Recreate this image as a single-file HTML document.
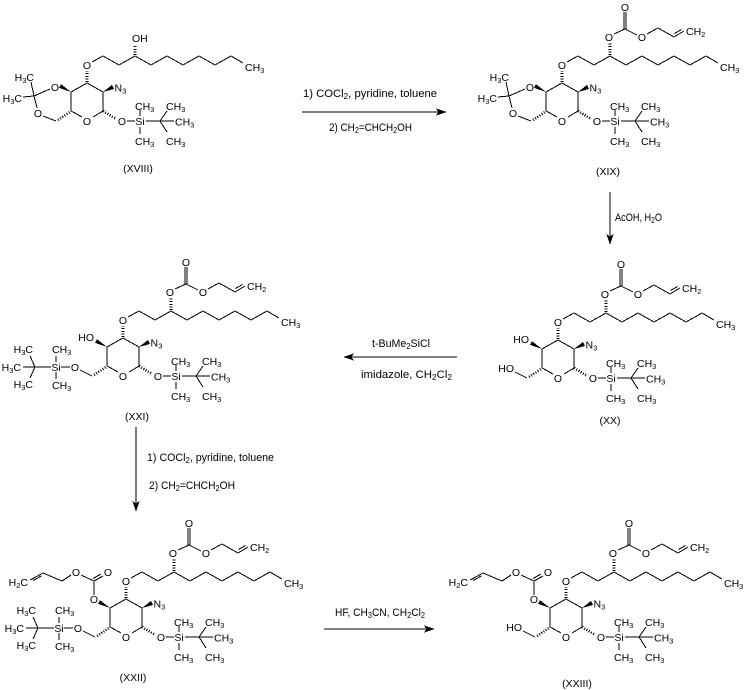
<!DOCTYPE html>
<html><head><meta charset="utf-8"><style>
html,body{margin:0;padding:0;background:#fff;}
svg{display:block}
text{font-family:"Liberation Sans",Arial,sans-serif;font-size:10.5px;fill:#000}
text.r{font-size:11px}
.m{text-anchor:middle}
.e{text-anchor:end}
path,line{stroke:#000;stroke-width:1;fill:none;shape-rendering:crispEdges}
line.h{stroke-dasharray:1,1.6;stroke-width:2.6}
polygon{fill:#000;stroke:none;shape-rendering:crispEdges}
</style></head><body>
<svg width="749" height="690" viewBox="0 0 749 690" xmlns="http://www.w3.org/2000/svg">

<!-- XVIII -->
<g transform="translate(0,0)">
<path d="M87,83 L103,92 L103,111 L93,117 M82,117 L71,111 L71,92 L87,83 M127,121 L135,121 M140,116 L140,110 M140,127 L140,134 M146,121 L160,121 L167,111 M160,121 L174,121 M160,121 L167,132 M92,62 L103,56 L119,65 L135,56 L151,65 L167,56 L183,65 L199,56 L215,65 L231,56 L243,63"/>
<line class="h" x1="87" y1="82" x2="87" y2="71"/>
<line class="h" x1="103" y1="111" x2="116" y2="119"/>
<line class="h" x1="58" y1="120" x2="70" y2="112"/>
<polygon points="103,92 112,85 114,89"/>
<text class="m" x="87" y="69">O</text>
<text class="m" x="87" y="125">O</text>
<text x="114.5" y="91.5">N<tspan dy="2" font-size="7.5">3</tspan></text>
<text class="m" x="122" y="125">O</text>
<text class="m" x="140" y="125">Si</text>
<text x="135" y="110">CH<tspan dy="2" font-size="7.5">3</tspan></text>
<text x="135" y="145">CH<tspan dy="2" font-size="7.5">3</tspan></text>
<text x="166" y="110">CH<tspan dy="2" font-size="7.5">3</tspan></text>
<text x="175" y="125.5">CH<tspan dy="2" font-size="7.5">3</tspan></text>
<text x="166" y="145">CH<tspan dy="2" font-size="7.5">3</tspan></text>
<text x="245" y="71">CH<tspan dy="2" font-size="7.5">3</tspan></text>
<line class="h" x1="135" y1="55" x2="135" y2="45"/>
<text x="132" y="42">OH</text>
<polygon points="71,92 61,84.2 59,87.8"/>
<path d="M50,89 L34,96 L37,108 M43,116 L56,121 M34,96 L31,82 M34,96 L23,97"/>
<text class="m" x="55" y="91">O</text>
<text class="m" x="38" y="117">O</text>
<text class="e" x="34" y="81">H<tspan dy="2" font-size="7.5">3</tspan><tspan dy="-2">C</tspan></text>
<text class="e" x="22" y="102">H<tspan dy="2" font-size="7.5">3</tspan><tspan dy="-2">C</tspan></text>
</g>

<!-- XIX -->
<g transform="translate(475,0)">
<path d="M87,83 L103,92 L103,111 L93,117 M82,117 L71,111 L71,92 L87,83 M127,121 L135,121 M140,116 L140,110 M140,127 L140,134 M146,121 L160,121 L167,111 M160,121 L174,121 M160,121 L167,132 M92,62 L103,56 L119,65 L135,56 L151,65 L167,56 L183,65 L199,56 L215,65 L231,56 L243,63"/>
<line class="h" x1="87" y1="82" x2="87" y2="71"/>
<line class="h" x1="103" y1="111" x2="116" y2="119"/>
<line class="h" x1="58" y1="120" x2="70" y2="112"/>
<polygon points="103,92 112,85 114,89"/>
<text class="m" x="87" y="69">O</text>
<text class="m" x="87" y="125">O</text>
<text x="114.5" y="91.5">N<tspan dy="2" font-size="7.5">3</tspan></text>
<text class="m" x="122" y="125">O</text>
<text class="m" x="140" y="125">Si</text>
<text x="135" y="110">CH<tspan dy="2" font-size="7.5">3</tspan></text>
<text x="135" y="145">CH<tspan dy="2" font-size="7.5">3</tspan></text>
<text x="166" y="110">CH<tspan dy="2" font-size="7.5">3</tspan></text>
<text x="175" y="125.5">CH<tspan dy="2" font-size="7.5">3</tspan></text>
<text x="166" y="145">CH<tspan dy="2" font-size="7.5">3</tspan></text>
<text x="245" y="71">CH<tspan dy="2" font-size="7.5">3</tspan></text>
<line class="h" x1="135" y1="55" x2="135" y2="43"/>
<path d="M139,34 L150,29 L162,35 M172,34 L183,28 L199,37 L209,31 M199.5,33.5 L206.5,29.5 M148.8,29 L148.8,12 M151.2,29 L151.2,12"/>
<text class="m" x="134" y="41">O</text>
<text class="m" x="150" y="11">O</text>
<text class="m" x="167" y="41">O</text>
<text x="211" y="35">CH<tspan dy="2" font-size="7.5">2</tspan></text>
<polygon points="71,92 61,84.2 59,87.8"/>
<path d="M50,89 L34,96 L37,108 M43,116 L56,121 M34,96 L31,82 M34,96 L23,97"/>
<text class="m" x="55" y="91">O</text>
<text class="m" x="38" y="117">O</text>
<text class="e" x="34" y="81">H<tspan dy="2" font-size="7.5">3</tspan><tspan dy="-2">C</tspan></text>
<text class="e" x="22" y="102">H<tspan dy="2" font-size="7.5">3</tspan><tspan dy="-2">C</tspan></text>
</g>

<!-- XX -->
<g transform="translate(471,257)">
<path d="M87,83 L103,92 L103,111 L93,117 M82,117 L71,111 L71,92 L87,83 M127,121 L135,121 M140,116 L140,110 M140,127 L140,134 M146,121 L160,121 L167,111 M160,121 L174,121 M160,121 L167,132 M92,62 L103,56 L119,65 L135,56 L151,65 L167,56 L183,65 L199,56 L215,65 L231,56 L243,63"/>
<line class="h" x1="87" y1="82" x2="87" y2="71"/>
<line class="h" x1="103" y1="111" x2="116" y2="119"/>
<line class="h" x1="58" y1="120" x2="70" y2="112"/>
<polygon points="103,92 112,85 114,89"/>
<text class="m" x="87" y="69">O</text>
<text class="m" x="87" y="125">O</text>
<text x="114.5" y="91.5">N<tspan dy="2" font-size="7.5">3</tspan></text>
<text class="m" x="122" y="125">O</text>
<text class="m" x="140" y="125">Si</text>
<text x="135" y="110">CH<tspan dy="2" font-size="7.5">3</tspan></text>
<text x="135" y="145">CH<tspan dy="2" font-size="7.5">3</tspan></text>
<text x="166" y="110">CH<tspan dy="2" font-size="7.5">3</tspan></text>
<text x="175" y="125.5">CH<tspan dy="2" font-size="7.5">3</tspan></text>
<text x="166" y="145">CH<tspan dy="2" font-size="7.5">3</tspan></text>
<text x="245" y="71">CH<tspan dy="2" font-size="7.5">3</tspan></text>
<line class="h" x1="135" y1="55" x2="135" y2="43"/>
<path d="M139,34 L150,29 L162,35 M172,34 L183,28 L199,37 L209,31 M199.5,33.5 L206.5,29.5 M148.8,29 L148.8,12 M151.2,29 L151.2,12"/>
<text class="m" x="134" y="41">O</text>
<text class="m" x="150" y="11">O</text>
<text class="m" x="167" y="41">O</text>
<text x="211" y="35">CH<tspan dy="2" font-size="7.5">2</tspan></text>
<polygon points="71,92 61,84.2 59,87.8"/>
<text class="e" x="58" y="86">HO</text>
<path d="M56,121 L44,115"/>
<text class="e" x="43" y="115">HO</text>
</g>

<!-- XXI -->
<g transform="translate(36,255)">
<path d="M87,83 L103,92 L103,111 L93,117 M82,117 L71,111 L71,92 L87,83 M127,121 L135,121 M140,116 L140,110 M140,127 L140,134 M146,121 L160,121 L167,111 M160,121 L174,121 M160,121 L167,132 M92,62 L103,56 L119,65 L135,56 L151,65 L167,56 L183,65 L199,56 L215,65 L231,56 L243,63"/>
<line class="h" x1="87" y1="82" x2="87" y2="71"/>
<line class="h" x1="103" y1="111" x2="116" y2="119"/>
<line class="h" x1="58" y1="120" x2="70" y2="112"/>
<polygon points="103,92 112,85 114,89"/>
<text class="m" x="87" y="69">O</text>
<text class="m" x="87" y="125">O</text>
<text x="114.5" y="91.5">N<tspan dy="2" font-size="7.5">3</tspan></text>
<text class="m" x="122" y="125">O</text>
<text class="m" x="140" y="125">Si</text>
<text x="135" y="110">CH<tspan dy="2" font-size="7.5">3</tspan></text>
<text x="135" y="145">CH<tspan dy="2" font-size="7.5">3</tspan></text>
<text x="166" y="110">CH<tspan dy="2" font-size="7.5">3</tspan></text>
<text x="175" y="125.5">CH<tspan dy="2" font-size="7.5">3</tspan></text>
<text x="166" y="145">CH<tspan dy="2" font-size="7.5">3</tspan></text>
<text x="245" y="71">CH<tspan dy="2" font-size="7.5">3</tspan></text>
<line class="h" x1="135" y1="55" x2="135" y2="43"/>
<path d="M139,34 L150,29 L162,35 M172,34 L183,28 L199,37 L209,31 M199.5,33.5 L206.5,29.5 M148.8,29 L148.8,12 M151.2,29 L151.2,12"/>
<text class="m" x="134" y="41">O</text>
<text class="m" x="150" y="11">O</text>
<text class="m" x="167" y="41">O</text>
<text x="211" y="35">CH<tspan dy="2" font-size="7.5">2</tspan></text>
<polygon points="71,92 61,84.2 59,87.8"/>
<text class="e" x="58" y="86">HO</text>
<path d="M56,121 L44,115 M34,112 L25,112 M20,107 L20,101 M20,117 L20,124 M15,112 L-1,112 L-6,101 M-1,112 L-13,112 M-1,112 L-6,123"/>
<text class="m" x="39" y="116">O</text>
<text class="m" x="20" y="116">Si</text>
<text x="16" y="98">CH<tspan dy="2" font-size="7.5">3</tspan></text>
<text x="16" y="134">CH<tspan dy="2" font-size="7.5">3</tspan></text>
<text class="e" x="-3" y="98">H<tspan dy="2" font-size="7.5">3</tspan><tspan dy="-2">C</tspan></text>
<text class="e" x="-15" y="116">H<tspan dy="2" font-size="7.5">3</tspan><tspan dy="-2">C</tspan></text>
<text class="e" x="-3" y="133">H<tspan dy="2" font-size="7.5">3</tspan><tspan dy="-2">C</tspan></text>
</g>

<!-- XXII -->
<g transform="translate(39,516)">
<path d="M87,83 L103,92 L103,111 L93,117 M82,117 L71,111 L71,92 L87,83 M127,121 L135,121 M140,116 L140,110 M140,127 L140,134 M146,121 L160,121 L167,111 M160,121 L174,121 M160,121 L167,132 M92,62 L103,56 L119,65 L135,56 L151,65 L167,56 L183,65 L199,56 L215,65 L231,56 L243,63"/>
<line class="h" x1="87" y1="82" x2="87" y2="71"/>
<line class="h" x1="103" y1="111" x2="116" y2="119"/>
<line class="h" x1="58" y1="120" x2="70" y2="112"/>
<polygon points="103,92 112,85 114,89"/>
<text class="m" x="87" y="69">O</text>
<text class="m" x="87" y="125">O</text>
<text x="114.5" y="91.5">N<tspan dy="2" font-size="7.5">3</tspan></text>
<text class="m" x="122" y="125">O</text>
<text class="m" x="140" y="125">Si</text>
<text x="135" y="110">CH<tspan dy="2" font-size="7.5">3</tspan></text>
<text x="135" y="145">CH<tspan dy="2" font-size="7.5">3</tspan></text>
<text x="166" y="110">CH<tspan dy="2" font-size="7.5">3</tspan></text>
<text x="175" y="125.5">CH<tspan dy="2" font-size="7.5">3</tspan></text>
<text x="166" y="145">CH<tspan dy="2" font-size="7.5">3</tspan></text>
<text x="245" y="71">CH<tspan dy="2" font-size="7.5">3</tspan></text>
<line class="h" x1="135" y1="55" x2="135" y2="43"/>
<path d="M139,34 L150,29 L162,35 M172,34 L183,28 L199,37 L209,31 M199.5,33.5 L206.5,29.5 M148.8,29 L148.8,12 M151.2,29 L151.2,12"/>
<text class="m" x="134" y="41">O</text>
<text class="m" x="150" y="11">O</text>
<text class="m" x="167" y="41">O</text>
<text x="211" y="35">CH<tspan dy="2" font-size="7.5">2</tspan></text>
<polygon points="71,92 61,84.2 59,87.8"/>
<path d="M55,79 L55,65 L64,60 M54,62.5 L62,58 M55,65 L42,59 M32,59 L23,65 L4,57 L-9,64 M2.5,59.8 L-6,64.5"/>
<text class="m" x="55" y="87">O</text>
<text class="m" x="69" y="60">O</text>
<text class="m" x="37" y="60">O</text>
<text class="e" x="-11" y="70">H<tspan dy="2" font-size="7.5">2</tspan><tspan dy="-2">C</tspan></text>
<path d="M56,121 L44,115 M34,112 L25,112 M20,107 L20,101 M20,117 L20,124 M15,112 L-1,112 L-6,101 M-1,112 L-13,112 M-1,112 L-6,123"/>
<text class="m" x="39" y="116">O</text>
<text class="m" x="20" y="116">Si</text>
<text x="16" y="98">CH<tspan dy="2" font-size="7.5">3</tspan></text>
<text x="16" y="134">CH<tspan dy="2" font-size="7.5">3</tspan></text>
<text class="e" x="-3" y="98">H<tspan dy="2" font-size="7.5">3</tspan><tspan dy="-2">C</tspan></text>
<text class="e" x="-15" y="116">H<tspan dy="2" font-size="7.5">3</tspan><tspan dy="-2">C</tspan></text>
<text class="e" x="-3" y="133">H<tspan dy="2" font-size="7.5">3</tspan><tspan dy="-2">C</tspan></text>
</g>

<!-- XXIII -->
<g transform="translate(479,516)">
<path d="M87,83 L103,92 L103,111 L93,117 M82,117 L71,111 L71,92 L87,83 M127,121 L135,121 M140,116 L140,110 M140,127 L140,134 M146,121 L160,121 L167,111 M160,121 L174,121 M160,121 L167,132 M92,62 L103,56 L119,65 L135,56 L151,65 L167,56 L183,65 L199,56 L215,65 L231,56 L243,63"/>
<line class="h" x1="87" y1="82" x2="87" y2="71"/>
<line class="h" x1="103" y1="111" x2="116" y2="119"/>
<line class="h" x1="58" y1="120" x2="70" y2="112"/>
<polygon points="103,92 112,85 114,89"/>
<text class="m" x="87" y="69">O</text>
<text class="m" x="87" y="125">O</text>
<text x="114.5" y="91.5">N<tspan dy="2" font-size="7.5">3</tspan></text>
<text class="m" x="122" y="125">O</text>
<text class="m" x="140" y="125">Si</text>
<text x="135" y="110">CH<tspan dy="2" font-size="7.5">3</tspan></text>
<text x="135" y="145">CH<tspan dy="2" font-size="7.5">3</tspan></text>
<text x="166" y="110">CH<tspan dy="2" font-size="7.5">3</tspan></text>
<text x="175" y="125.5">CH<tspan dy="2" font-size="7.5">3</tspan></text>
<text x="166" y="145">CH<tspan dy="2" font-size="7.5">3</tspan></text>
<text x="245" y="71">CH<tspan dy="2" font-size="7.5">3</tspan></text>
<line class="h" x1="135" y1="55" x2="135" y2="43"/>
<path d="M139,34 L150,29 L162,35 M172,34 L183,28 L199,37 L209,31 M199.5,33.5 L206.5,29.5 M148.8,29 L148.8,12 M151.2,29 L151.2,12"/>
<text class="m" x="134" y="41">O</text>
<text class="m" x="150" y="11">O</text>
<text class="m" x="167" y="41">O</text>
<text x="211" y="35">CH<tspan dy="2" font-size="7.5">2</tspan></text>
<polygon points="71,92 61,84.2 59,87.8"/>
<path d="M55,79 L55,65 L64,60 M54,62.5 L62,58 M55,65 L42,59 M32,59 L23,65 L4,57 L-9,64 M2.5,59.8 L-6,64.5"/>
<text class="m" x="55" y="87">O</text>
<text class="m" x="69" y="60">O</text>
<text class="m" x="37" y="60">O</text>
<text class="e" x="-11" y="70">H<tspan dy="2" font-size="7.5">2</tspan><tspan dy="-2">C</tspan></text>
<path d="M56,121 L44,115"/>
<text class="e" x="43" y="115">HO</text>
</g>

<!-- compound labels -->
<text class="m" x="138" y="172">(XVIII)</text>
<text class="m" x="608" y="175">(XIX)</text>
<text class="m" x="610" y="424">(XX)</text>
<text class="m" x="137" y="420">(XXI)</text>
<text class="m" x="133" y="681">(XXII)</text>
<text class="m" x="577" y="687">(XXIII)</text>

<!-- arrows -->
<path d="M302,112 L440,112"/>
<polygon points="447,112 436,108.5 438.5,112 436,115.5"/>
<path d="M610,192 L610,238"/>
<polygon points="610,245 606.5,234 610,236.5 613.5,234"/>
<path d="M350,357 L457,357"/>
<polygon points="343,357 354,353.5 351.5,357 354,360.5"/>
<path d="M136,427 L136,505"/>
<polygon points="136,512 132.5,501 136,503.5 139.5,501"/>
<path d="M324,629 L428,629"/>
<polygon points="435,629 424,625.5 426.5,629 424,632.5"/>

<!-- reagents -->
<text class="r" x="303" y="97" textLength="134" lengthAdjust="spacingAndGlyphs">1) COCl<tspan dy="2" font-size="8">2</tspan><tspan dy="-2">, pyridine, toluene</tspan></text>
<text class="r" x="329" y="131" textLength="83" lengthAdjust="spacingAndGlyphs">2) CH<tspan dy="2" font-size="8">2</tspan><tspan dy="-2">=CHCH</tspan><tspan dy="2" font-size="8">2</tspan><tspan dy="-2">OH</tspan></text>
<text class="r" x="615" y="221" textLength="47" lengthAdjust="spacingAndGlyphs">AcOH, H<tspan dy="2" font-size="8">2</tspan><tspan dy="-2">O</tspan></text>
<text class="r" x="372" y="347" textLength="58" lengthAdjust="spacingAndGlyphs">t-BuMe<tspan dy="2" font-size="8">2</tspan><tspan dy="-2">SiCl</tspan></text>
<text class="r" x="361" y="378" textLength="91" lengthAdjust="spacingAndGlyphs">imidazole, CH<tspan dy="2" font-size="8">2</tspan><tspan dy="-2">Cl</tspan><tspan dy="2" font-size="8">2</tspan></text>
<text class="r" x="147" y="461" textLength="127" lengthAdjust="spacingAndGlyphs">1) COCl<tspan dy="2" font-size="8">2</tspan><tspan dy="-2">, pyridine, toluene</tspan></text>
<text class="r" x="149" y="489" textLength="86" lengthAdjust="spacingAndGlyphs">2) CH<tspan dy="2" font-size="8">2</tspan><tspan dy="-2">=CHCH</tspan><tspan dy="2" font-size="8">2</tspan><tspan dy="-2">OH</tspan></text>
<text class="r" x="335" y="616" textLength="90" lengthAdjust="spacingAndGlyphs">HF, CH<tspan dy="2" font-size="8">3</tspan><tspan dy="-2">CN, CH</tspan><tspan dy="2" font-size="8">2</tspan><tspan dy="-2">Cl</tspan><tspan dy="2" font-size="8">2</tspan></text>
</svg>
</body></html>
